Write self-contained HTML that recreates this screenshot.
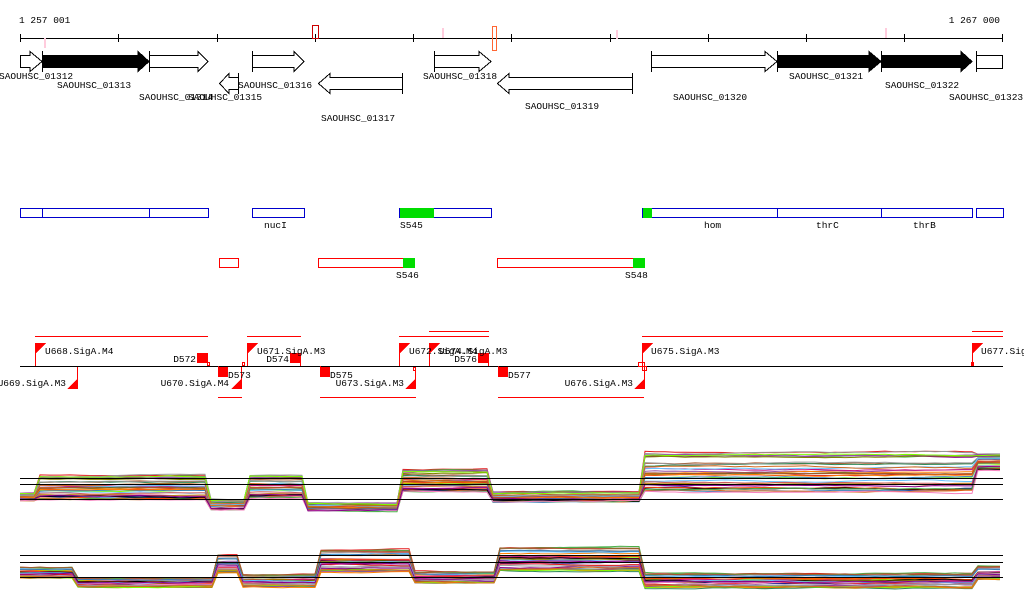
<!DOCTYPE html>
<html><head><meta charset="utf-8"><style>
html,body{margin:0;padding:0;background:#fff;width:1024px;height:611px;overflow:hidden}
svg{display:block}
text{font-family:"Liberation Mono","DejaVu Sans Mono",monospace;font-size:9.5px;fill:#000}
</style></head><body>
<svg id="s" width="1024" height="611" viewBox="0 0 1024 611" xmlns="http://www.w3.org/2000/svg" shape-rendering="crispEdges">
<text x="19" y="23">1 257 001</text>
<text x="1000" y="23" text-anchor="end">1 267 000</text>
<line x1="20" y1="38.5" x2="1003" y2="38.5" stroke="#000"/>
<g stroke="#000">
<line x1="20.5" y1="34" x2="20.5" y2="42"/><line x1="118.5" y1="34" x2="118.5" y2="42"/>
<line x1="217.5" y1="34" x2="217.5" y2="42"/><line x1="315.5" y1="34" x2="315.5" y2="42"/>
<line x1="413.5" y1="34" x2="413.5" y2="42"/><line x1="511.5" y1="34" x2="511.5" y2="42"/>
<line x1="610.5" y1="34" x2="610.5" y2="42"/><line x1="708.5" y1="34" x2="708.5" y2="42"/>
<line x1="806.5" y1="34" x2="806.5" y2="42"/><line x1="904.5" y1="34" x2="904.5" y2="42"/>
<line x1="1002.5" y1="34" x2="1002.5" y2="42"/>
</g>
<rect x="312.5" y="25.5" width="6" height="13" fill="none" stroke="#c00"/>
<rect x="492.5" y="26.5" width="4" height="24" fill="none" stroke="#f63"/>
<rect x="44" y="38" width="2" height="10" fill="#fcd"/>
<rect x="442" y="28" width="2" height="10" fill="#fcd"/>
<rect x="616" y="30" width="2" height="9" fill="#fcd"/>
<rect x="885" y="28" width="2" height="10" fill="#fcd"/>
<g stroke="#000" fill="#fff">
<polygon points="20.5,55.5 30,55.5 30,51.5 42,61.5 30,71.5 30,67.5 20.5,67.5"/>
<polygon points="42.5,55.5 138,55.5 138,51.5 149,61.5 138,71.5 138,67.5 42.5,67.5" fill="#000"/>
<line x1="42.5" y1="51" x2="42.5" y2="72"/>
<polygon points="149.5,55.5 198,55.5 198,51.5 208,61.5 198,71.5 198,67.5 149.5,67.5"/>
<line x1="149.5" y1="51" x2="149.5" y2="72"/>
<polygon points="238.5,77.5 229,77.5 229,73.5 219.5,83.5 229,93.5 229,89.5 238.5,89.5"/>
<line x1="238.5" y1="73" x2="238.5" y2="94"/>
<polygon points="252.5,55.5 294,55.5 294,51.5 304,61.5 294,71.5 294,67.5 252.5,67.5"/>
<line x1="252.5" y1="51" x2="252.5" y2="72"/>
<polygon points="402.5,77.5 330,77.5 330,73.5 318.5,83.5 330,93.5 330,89.5 402.5,89.5"/>
<line x1="402.5" y1="73" x2="402.5" y2="94"/>
<polygon points="434.5,55.5 479,55.5 479,51.5 491,61.5 479,71.5 479,67.5 434.5,67.5"/>
<line x1="434.5" y1="51" x2="434.5" y2="72"/>
<polygon points="632.5,77.5 509,77.5 509,73.5 497.5,83.5 509,93.5 509,89.5 632.5,89.5"/>
<line x1="632.5" y1="73" x2="632.5" y2="94"/>
<polygon points="651.5,55.5 765,55.5 765,51.5 777,61.5 765,71.5 765,67.5 651.5,67.5"/>
<line x1="651.5" y1="51" x2="651.5" y2="72"/>
<polygon points="777.5,55.5 869,55.5 869,51.5 881,61.5 869,71.5 869,67.5 777.5,67.5" fill="#000"/>
<line x1="777.5" y1="51" x2="777.5" y2="72"/>
<polygon points="881.5,55.5 961,55.5 961,51.5 972,61.5 961,71.5 961,67.5 881.5,67.5" fill="#000"/>
<line x1="881.5" y1="51" x2="881.5" y2="72"/>
<rect x="976.5" y="55.5" width="26" height="13"/>
<line x1="976.5" y1="51" x2="976.5" y2="72"/>
</g>
<text x="-1" y="79">SAOUHSC_01312</text>
<text x="57" y="88">SAOUHSC_01313</text>
<text x="139" y="100">SAOUHSC_01314</text>
<text x="188" y="100">SAOUHSC_01315</text>
<text x="238" y="88">SAOUHSC_01316</text>
<text x="321" y="121">SAOUHSC_01317</text>
<text x="423" y="79">SAOUHSC_01318</text>
<text x="525" y="109">SAOUHSC_01319</text>
<text x="673" y="100">SAOUHSC_01320</text>
<text x="789" y="79">SAOUHSC_01321</text>
<text x="885" y="88">SAOUHSC_01322</text>
<text x="949" y="100">SAOUHSC_01323</text>
<g fill="#fff" stroke="#00c">
<rect x="20.5" y="208.5" width="22" height="9"/><rect x="42.5" y="208.5" width="107" height="9"/><rect x="149.5" y="208.5" width="59" height="9"/>
<rect x="252.5" y="208.5" width="52" height="9"/>
<rect x="399.5" y="208.5" width="92" height="9"/>
<rect x="642.5" y="208.5" width="135" height="9"/><rect x="777.5" y="208.5" width="104" height="9"/><rect x="881.5" y="208.5" width="91" height="9"/>
<rect x="976.5" y="208.5" width="27" height="9"/>
</g>
<rect x="400" y="208" width="34" height="10" fill="#0d0"/>
<rect x="643" y="208" width="9" height="10" fill="#0d0"/>
<text x="264" y="228">nucI</text><text x="400" y="228">S545</text>
<text x="704" y="228">hom</text><text x="816" y="228">thrC</text><text x="913" y="228">thrB</text>
<g fill="#fff" stroke="#f00">
<rect x="219.5" y="258.5" width="19" height="9"/><rect x="318.5" y="258.5" width="85" height="9"/><rect x="497.5" y="258.5" width="136" height="9"/>
</g>
<rect x="403" y="258" width="12" height="10" fill="#0d0"/>
<rect x="633" y="258" width="12" height="10" fill="#0d0"/>
<text x="396" y="278">S546</text><text x="625" y="278">S548</text>
<line x1="20" y1="366.5" x2="1003" y2="366.5" stroke="#000"/>
<g stroke="#f00">
<line x1="35" y1="336.5" x2="208" y2="336.5"/>
<line x1="247" y1="336.5" x2="301" y2="336.5"/>
<line x1="399" y1="336.5" x2="489" y2="336.5"/>
<line x1="429" y1="331.5" x2="489" y2="331.5"/>
<line x1="642" y1="336.5" x2="1003" y2="336.5"/>
<line x1="972" y1="331.5" x2="1003" y2="331.5"/>
<line x1="218" y1="397.5" x2="242" y2="397.5"/>
<line x1="320" y1="397.5" x2="416" y2="397.5"/>
<line x1="498" y1="397.5" x2="644" y2="397.5"/>
<line x1="35.5" y1="343" x2="35.5" y2="366"/>
<line x1="247.5" y1="343" x2="247.5" y2="366"/>
<line x1="399.5" y1="343" x2="399.5" y2="366"/>
<line x1="429.5" y1="343" x2="429.5" y2="366"/>
<line x1="642.5" y1="343" x2="642.5" y2="366"/>
<line x1="972.5" y1="343" x2="972.5" y2="366"/>
<line x1="77.5" y1="367" x2="77.5" y2="389"/>
<line x1="241.5" y1="367" x2="241.5" y2="389"/>
<line x1="415.5" y1="367" x2="415.5" y2="389"/>
<line x1="644.5" y1="367" x2="644.5" y2="389"/>
<line x1="207.5" y1="353" x2="207.5" y2="366"/>
<line x1="300.5" y1="353" x2="300.5" y2="366"/>
<line x1="488.5" y1="353" x2="488.5" y2="366"/>
<line x1="218.5" y1="366" x2="218.5" y2="377"/>
<line x1="320.5" y1="366" x2="320.5" y2="377"/>
<line x1="498.5" y1="366" x2="498.5" y2="377"/>
</g>
<g fill="#f00">
<polygon points="36,343 46,343 36,353"/><polygon points="248,343 258,343 248,353"/>
<polygon points="400,343 410,343 400,353"/><polygon points="430,343 440,343 430,353"/>
<polygon points="643,343 653,343 643,353"/><polygon points="973,343 983,343 973,353"/>
<polygon points="77,379 77,389 67,389"/><polygon points="241,379 241,389 231,389"/>
<polygon points="415,379 415,389 405,389"/><polygon points="644,379 644,389 634,389"/>
<rect x="197" y="353" width="10" height="10"/><rect x="290" y="353" width="10" height="10"/>
<rect x="478" y="353" width="10" height="10"/>
<rect x="218" y="367" width="10" height="10"/><rect x="320" y="367" width="10" height="10"/>
<rect x="498" y="367" width="10" height="10"/>
<rect x="971" y="362" width="3" height="4"/>
</g>
<g fill="none" stroke="#f00">
<rect x="207.5" y="362.5" width="2" height="3"/><rect x="242.5" y="362.5" width="2" height="3"/>
<rect x="413.5" y="367.5" width="2" height="3"/><rect x="638.5" y="362.5" width="6" height="4"/>
<rect x="642.5" y="366.5" width="4" height="4"/>
</g>
<text x="45" y="354">U668.SigA.M4</text>
<text x="196" y="362" text-anchor="end">D572</text>
<text x="257" y="354">U671.SigA.M3</text>
<text x="289" y="362" text-anchor="end">D574</text>
<text x="409" y="354">U672.SigA.M4</text>
<text x="439" y="354">U674.SigA.M3</text>
<text x="477" y="362" text-anchor="end">D576</text>
<text x="651" y="354">U675.SigA.M3</text>
<text x="981" y="354">U677.SigA.M3</text>
<text x="66" y="386" text-anchor="end">U669.SigA.M3</text>
<text x="229" y="386" text-anchor="end">U670.SigA.M4</text>
<text x="404" y="386" text-anchor="end">U673.SigA.M3</text>
<text x="633" y="386" text-anchor="end">U676.SigA.M3</text>
<text x="228" y="378">D573</text><text x="330" y="378">D575</text><text x="508" y="378">D577</text>
<g id="plots" fill="none" stroke-width="1" shape-rendering="auto"></g>
<g stroke="#000">
<line x1="20" y1="478.5" x2="1003" y2="478.5"/><line x1="20" y1="484.5" x2="1003" y2="484.5"/><line x1="20" y1="499.5" x2="1003" y2="499.5"/>
<line x1="20" y1="555.5" x2="1003" y2="555.5"/><line x1="20" y1="562.5" x2="1003" y2="562.5"/><line x1="20" y1="577.5" x2="1003" y2="577.5"/>
</g>
</svg>
<script>
(function(){
var g=document.getElementById('plots');
var cols=['#e41a1c','#377eb8','#4daf4a','#984ea3','#ff7f00','#a65628','#f781bf','#999999','#66c2ff','#7fff00','#d2691e','#8b008b','#b8860b','#000080','#ff4500','#2e8b57','#c71585','#556b2f','#000','#b0a0c0','#cd5c5c','#808000'];
var seed=7;function r(){seed=(seed*16807)%2147483647;return seed/2147483647;}
function draw(segs,n){
 for(var i=0;i<n;i++){
  var u=r(),pts=[],w=0;
  for(var k=0;k<segs.length;k++){
   var s=segs[k];var base=s[2]+(u-0.5)*s[3];
   var x0=s[0]+(k>0?3:0);
   for(var x=x0;x<=s[1]-3;x+=10){w+=(r()-0.5)*1.2;w*=0.9;pts.push(x+','+(base+w).toFixed(1));}
   pts.push((s[1]-3)+','+(base+w).toFixed(1));
  }
  var p=document.createElementNS('http://www.w3.org/2000/svg','polyline');
  p.setAttribute('points',pts.join(' '));p.setAttribute('stroke',cols[i%cols.length]);
  g.appendChild(p);
 }
}
draw([[20,37,497,8],[37,208,488,26],[208,247,505,10],[247,305,487,24],[305,400,507,8],[400,490,481,24],[490,642,497,10],[642,975,473,42],[975,1003,462,16]],34);
draw([[20,75,572,12],[75,215,582,10],[215,240,563,20],[240,318,580,14],[318,412,560,24],[412,497,577,12],[497,642,558,26],[642,975,580,16],[975,1003,572,14]],34);
})();
</script>
</body></html>
